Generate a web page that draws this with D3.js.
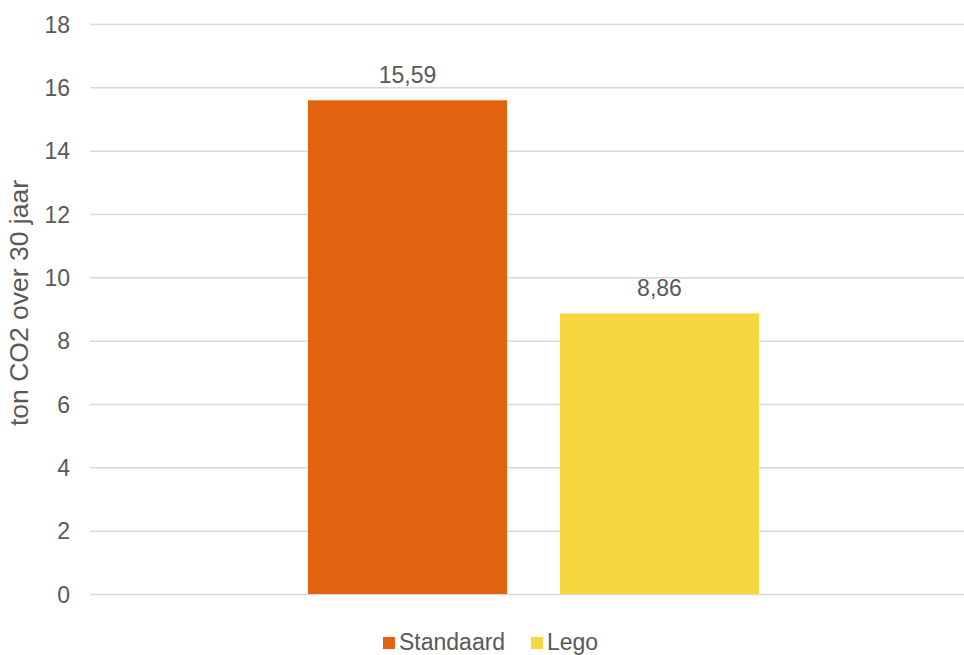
<!DOCTYPE html>
<html>
<head>
<meta charset="utf-8">
<script src="https://cdn.jsdelivr.net/npm/d3@7"></script>
<style>
  body { margin: 0; background: #fff; }
  text { font-family: "Liberation Sans", Arial, sans-serif; fill: #595959; }
</style>
</head>
<body>
<div id="container"></div>
<script>
// data
var series = ["Standaard", "Lego"],
    values = [15.59, 8.86],
    colors = ["#E3620F", "#F6D63F"],
    yTicks = [0, 2, 4, 6, 8, 10, 12, 14, 16, 18],
    yTitle = "ton CO2 over 30 jaar";

// parameters
var width = 964,
    height = 655,
    plotLeft = 90,
    plotTop = 24,
    plotBottom = 594;

var svg = d3.select("#container")
    .append("svg")
    .attr("width", width)
    .attr("height", height);

var y = d3.scaleLinear().domain([0, 18]).range([plotBottom, plotTop]);

// one category holding both series, Excel-style gap
var x = d3.scaleBand()
    .domain(series)
    .range([308, 759])
    .paddingInner(0.21);

var fmt = function (v) { return d3.format(".2f")(v).replace(".", ","); };

// gridlines
svg.append("g")
    .selectAll("line")
    .data(yTicks)
    .enter()
    .append("line")
    .attr("x1", plotLeft)
    .attr("x2", width)
    .attr("y1", function (d) { return y(d) + 0.5; })
    .attr("y2", function (d) { return y(d) + 0.5; })
    .attr("stroke", "#d9d9d9")
    .attr("stroke-width", 1.5);

// y axis labels
var axis = d3.axisLeft(y).tickValues(yTicks).tickSize(0).tickPadding(0);
var ag = svg.append("g")
    .attr("transform", "translate(70,0)")
    .call(axis);
ag.select(".domain").remove();
ag.selectAll("text")
    .style("font-size", "23px")
    .attr("fill", "#595959")
    .attr("dy", "0.35em");

// axis title
svg.append("text")
    .attr("transform", "translate(28,303) rotate(-90)")
    .attr("text-anchor", "middle")
    .style("font-size", "26.5px")
    .text(yTitle);

// bars
svg.append("g")
    .selectAll("rect")
    .data(series)
    .enter()
    .append("rect")
    .attr("x", function (d) { return x(d); })
    .attr("width", x.bandwidth())
    .attr("y", function (d, i) { return y(values[i]); })
    .attr("height", function (d, i) { return plotBottom - y(values[i]); })
    .attr("fill", function (d, i) { return colors[i]; });

// value labels
svg.append("g")
    .selectAll("text")
    .data(series)
    .enter()
    .append("text")
    .attr("x", function (d) { return x(d) + x.bandwidth() / 2; })
    .attr("y", function (d, i) { return y(values[i]) - 17; })
    .attr("text-anchor", "middle")
    .style("font-size", "23px")
    .text(function (d, i) { return fmt(values[i]); });

// legend
var legend = svg.append("g").attr("transform", "translate(383,642)");
var lx = [0, 148];
series.forEach(function (s, i) {
    legend.append("rect")
        .attr("x", lx[i])
        .attr("y", -5)
        .attr("width", 12)
        .attr("height", 12)
        .attr("fill", colors[i]);
    legend.append("text")
        .attr("x", lx[i] + 16)
        .attr("y", 0)
        .attr("dy", "0.35em")
        .style("font-size", "23px")
        .text(s);
});
</script>
</body>
</html>
